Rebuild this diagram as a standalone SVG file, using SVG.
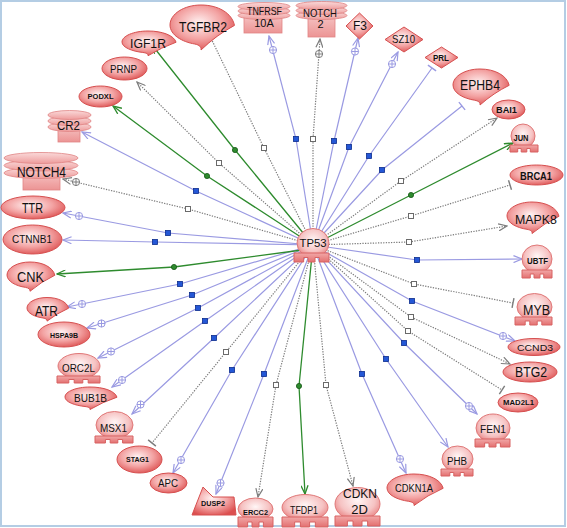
<svg xmlns="http://www.w3.org/2000/svg" width="567" height="528" viewBox="0 0 567 528">
<style>
text{font-family:"Liberation Sans",Arial,sans-serif;text-anchor:middle;fill:#111}
.sb{font-weight:bold}
.e{fill:url(#gE);stroke:#d65050;stroke-width:1}
.c{fill:url(#gE);stroke:#d65050;stroke-width:1}
.t{fill:url(#gT);stroke:#e07878;stroke-width:1}
.b{fill:url(#gB);stroke:#d86262;stroke-width:1}
.r{fill:url(#gR);stroke:#e08484;stroke-width:0.8}
.rb{fill:url(#gB2);stroke:#e08484;stroke-width:0.8}
.lb{fill:none;stroke:#9a9ae2;stroke-width:1.2}
.lg{fill:none;stroke:#7c7c7c;stroke-width:1.2;stroke-dasharray:1.3 1.3}
.ln{fill:none;stroke:#2e8b2e;stroke-width:1.3}
</style>
<defs>
<radialGradient id="gE" cx="0.45" cy="0.4" r="0.65"><stop offset="0" stop-color="#fff3f3"/><stop offset="0.55" stop-color="#f3a3a3"/><stop offset="1" stop-color="#dc4f4f"/></radialGradient>
<radialGradient id="gT" cx="0.5" cy="0.4" r="0.6"><stop offset="0" stop-color="#fff6f6"/><stop offset="0.65" stop-color="#f6c3c3"/><stop offset="1" stop-color="#e98585"/></radialGradient>
<linearGradient id="gB" x1="0" y1="0" x2="0" y2="1"><stop offset="0" stop-color="#f2a8a8"/><stop offset="1" stop-color="#e37070"/></linearGradient>
<linearGradient id="gR" x1="0" y1="0" x2="0" y2="1"><stop offset="0" stop-color="#fadada"/><stop offset="1" stop-color="#ee9c9c"/></linearGradient>
<linearGradient id="gB2" x1="0" y1="0" x2="0" y2="1"><stop offset="0" stop-color="#f6c4c4"/><stop offset="1" stop-color="#ec9494"/></linearGradient>
<path id="cr" class="c" vector-effect="non-scaling-stroke" d="M1.08,0.02C1,-0.6 0.55,-1 0,-1C-0.55,-1 -1,-0.55 -1,0C-1,0.5 -0.6,0.85 -0.2,0.95C-0.05,1 0.02,1.1 0,1.25Q0.5,0.5 1.08,0.02Z"/>
<path id="bs" class="b" vector-effect="non-scaling-stroke" d="M-1,0H1V1H0.45V0.5H0.2V1H-0.2V0.5H-0.45V1H-1Z"/>
<marker id="aB" viewBox="0 0 10 8" refX="9" refY="4" markerWidth="10" markerHeight="8" markerUnits="userSpaceOnUse" orient="auto"><path d="M0.5,0.5L9,4L0.5,7.5" fill="none" stroke="#9a9ae2" stroke-width="1.2"/></marker>
<marker id="aG" viewBox="0 0 10 8" refX="9" refY="4" markerWidth="10" markerHeight="8" markerUnits="userSpaceOnUse" orient="auto"><path d="M0.5,0.5L9,4L0.5,7.5" fill="none" stroke="#7c7c7c" stroke-width="1.2"/></marker>
<marker id="aN" viewBox="0 0 10 8" refX="9" refY="4" markerWidth="10" markerHeight="8" markerUnits="userSpaceOnUse" orient="auto"><path d="M0.5,0.5L9,4L0.5,7.5" fill="none" stroke="#2e8b2e" stroke-width="1.3"/></marker>
<marker id="tB" viewBox="0 0 4 12" refX="2" refY="6" markerWidth="4" markerHeight="12" markerUnits="userSpaceOnUse" orient="auto"><path d="M2,1V11" stroke="#9a9ae2" stroke-width="1.4"/></marker>
<marker id="tG" viewBox="0 0 4 12" refX="2" refY="6" markerWidth="4" markerHeight="12" markerUnits="userSpaceOnUse" orient="auto"><path d="M2,1V11" stroke="#7c7c7c" stroke-width="1.4"/></marker>
<rect id="qB" x="-2.5" y="-2.5" width="5" height="5" fill="#2457d6" stroke="#0c2c8c" stroke-width="0.8"/>
<rect id="qG" x="-2.5" y="-2.5" width="5" height="5" fill="#fff" stroke="#6a6a6a" stroke-width="1"/>
<circle id="qN" r="2.6" fill="#2e8b2e" stroke="#155515" stroke-width="0.8"/>
<g id="pB"><circle r="3.6" fill="#fff" stroke="#9a9ae2"/><path d="M-3.6,0H3.6M0,-3.6V3.6" stroke="#9a9ae2"/></g>
<g id="pG"><circle r="3.6" fill="#fff" stroke="#7c7c7c"/><path d="M-3.6,0H3.6M0,-3.6V3.6" stroke="#7c7c7c"/></g>
</defs>
<rect x="1" y="1" width="564" height="525" fill="#fff" stroke="#b4cde4" stroke-width="2"/>
<g id="connectors">
<path class="ln" d="M313,245L235,150L152,45" marker-end="url(#aN)"/><use href="#qN" x="235" y="150"/>
<path class="ln" d="M313,245L207,176L113,106" marker-end="url(#aN)"/><use href="#qN" x="207" y="176"/>
<path class="lg" d="M313,245L219,163L137,82" marker-end="url(#aG)"/><use href="#qG" x="219" y="163"/>
<path class="lg" d="M313,245L264,148L207,30" marker-end="url(#aG)"/><use href="#qG" x="264" y="148"/>
<path class="lb" d="M313,245L296,139L269,36" marker-end="url(#aB)"/><use href="#qB" x="296" y="139"/><use href="#pB" x="273" y="50"/>
<path class="lg" d="M313,245L313,139L320,39" marker-end="url(#aG)"/><use href="#qG" x="313" y="139"/><use href="#pG" x="319" y="54"/>
<path class="lb" d="M313,245L334,141L358,38" marker-end="url(#aB)"/><use href="#qB" x="334" y="141"/><use href="#pB" x="355" y="51.5"/>
<path class="lb" d="M313,245L349,147L398,52" marker-end="url(#aB)"/><use href="#qB" x="349" y="147"/><use href="#pB" x="392" y="64"/>
<path class="lb" d="M313,245L369,156L432,68" marker-end="url(#tB)"/><use href="#qB" x="369" y="156"/>
<path class="lb" d="M313,245L382,170L462,106" marker-end="url(#tB)"/><use href="#qB" x="382" y="170"/>
<path class="lg" d="M313,245L401,181L497,118" marker-end="url(#aG)"/><use href="#qG" x="401" y="181"/>
<path class="ln" d="M313,245L411,195L513,143" marker-end="url(#aN)"/><use href="#qN" x="411" y="195"/>
<path class="lg" d="M313,245L411,216L510,185" marker-end="url(#tG)"/><use href="#qG" x="411" y="216"/>
<path class="lg" d="M313,245L409,242L507,226" marker-end="url(#aG)"/><use href="#qG" x="409" y="242"/>
<path class="lb" d="M313,245L417,260L522,259" marker-end="url(#aB)"/><use href="#qB" x="417" y="260"/>
<path class="lg" d="M313,245L414,284L513,303" marker-end="url(#tG)"/><use href="#qG" x="414" y="284"/>
<path class="lb" d="M313,245L412,301L515,341" marker-end="url(#aB)"/><use href="#qB" x="412" y="301"/><use href="#pB" x="503" y="336"/>
<path class="lg" d="M313,245L411,317L510,364" marker-end="url(#aG)"/><use href="#qG" x="411" y="317"/>
<path class="lg" d="M313,245L408,331L502,390" marker-end="url(#tG)"/><use href="#qG" x="408" y="331"/>
<path class="lb" d="M313,245L404,343L477,414" marker-end="url(#aB)"/><use href="#qB" x="404" y="343"/><use href="#pB" x="469" y="406"/>
<path class="lb" d="M313,245L386,359L448,447" marker-end="url(#aB)"/><use href="#qB" x="386" y="359"/>
<path class="lb" d="M313,245L362,374L406,473" marker-end="url(#aB)"/><use href="#qB" x="362" y="374"/><use href="#pB" x="400" y="459"/>
<path class="lg" d="M313,245L326,385L353,486" marker-end="url(#aG)"/><use href="#qG" x="326" y="385"/>
<path class="ln" d="M313,245L299,386L305,494" marker-end="url(#aN)"/><use href="#qN" x="299" y="386"/>
<path class="lg" d="M313,245L276,385L258,497" marker-end="url(#aG)"/><use href="#qG" x="276" y="385"/>
<path class="lb" d="M313,245L264,374L216,494" marker-end="url(#aB)"/><use href="#qB" x="264" y="374"/><use href="#pB" x="220.5" y="483"/>
<path class="lb" d="M313,245L232,370L173,473" marker-end="url(#aB)"/><use href="#qB" x="232" y="370"/><use href="#pB" x="181" y="460"/>
<path class="lg" d="M313,245L226,352L152,443" marker-end="url(#tG)"/><use href="#qG" x="226" y="352"/>
<path class="lb" d="M313,245L214,338L132,414" marker-end="url(#aB)"/><use href="#qB" x="214" y="338"/><use href="#pB" x="140.5" y="404.5"/>
<path class="lb" d="M313,245L205,321L112,387" marker-end="url(#aB)"/><use href="#qB" x="205" y="321"/><use href="#pB" x="122" y="380"/>
<path class="lb" d="M313,245L198,308L98,358" marker-end="url(#aB)"/><use href="#qB" x="198" y="308"/><use href="#pB" x="111" y="351.5"/>
<path class="lb" d="M313,245L192,295L87,328" marker-end="url(#aB)"/><use href="#qB" x="192" y="295"/><use href="#pB" x="101.5" y="323.5"/>
<path class="lb" d="M313,245L180,284L67,307" marker-end="url(#aB)"/><use href="#qB" x="180" y="284"/><use href="#pB" x="82" y="304"/>
<path class="ln" d="M302,250L174,267L57,274" marker-end="url(#aN)"/><use href="#qN" x="174" y="267"/>
<path class="lb" d="M313,245L155,242L63,240" marker-end="url(#aB)"/><use href="#qB" x="155" y="242"/>
<path class="lb" d="M313,245L168,233L63,213" marker-end="url(#aB)"/><use href="#qB" x="168" y="233"/><use href="#pB" x="79" y="216"/>
<path class="lg" d="M313,245L188,209L63,179" marker-end="url(#aG)"/><use href="#qG" x="188" y="209"/><use href="#pG" x="76" y="182"/>
<path class="lb" d="M313,245L196,191L82,132" marker-end="url(#aB)"/><use href="#qB" x="196" y="191"/>
</g>
<g id="TP53"><ellipse class="t" cx="313" cy="243" rx="16" ry="14.5"/><use href="#bs" transform="translate(311.5,253) scale(17.5,9)"/><text x="313" y="247" font-size="10" textLength="27" lengthAdjust="spacingAndGlyphs">TP53</text></g>
<g id="IGF1R"><use href="#cr" transform="translate(148,42) scale(26,11)"/><text x="148" y="48" font-size="12.5" textLength="36" lengthAdjust="spacingAndGlyphs">IGF1R</text></g>
<g id="TGFBR2"><use href="#cr" transform="translate(201,25) scale(31,20)"/><text x="203" y="32" font-size="14" textLength="48" lengthAdjust="spacingAndGlyphs">TGFBR2</text></g>
<g id="PRNP"><ellipse class="e" cx="124.5" cy="68.5" rx="22.5" ry="11.5"/><text x="123.5" y="72.5" font-size="10" textLength="27" lengthAdjust="spacingAndGlyphs">PRNP</text></g>
<g id="PODXL"><ellipse class="e" cx="100.5" cy="96.5" rx="21.5" ry="10.5"/><text class="sb" x="100.5" y="99" font-size="7.5" textLength="26" lengthAdjust="spacingAndGlyphs">PODXL</text></g>
<g id="CR2"><rect class="rb" x="58" y="126" width="22" height="16"/><ellipse class="r" cx="69.5" cy="127" rx="21.5" ry="4.5"/><ellipse class="r" cx="69.5" cy="121" rx="21.5" ry="4.5"/><ellipse class="r" cx="69.5" cy="115" rx="21.5" ry="4.5"/><text x="68.5" y="130" font-size="13" textLength="23" lengthAdjust="spacingAndGlyphs">CR2</text></g>
<g id="NOTCH4"><rect class="rb" x="23" y="172" width="37" height="18"/><ellipse class="r" cx="41" cy="173" rx="37" ry="5.5"/><ellipse class="r" cx="41" cy="165.5" rx="37" ry="5.5"/><ellipse class="r" cx="41" cy="158" rx="37" ry="5.5"/><text x="41.5" y="177" font-size="14.5" textLength="49" lengthAdjust="spacingAndGlyphs">NOTCH4</text></g>
<g id="TNFRSF10A"><rect class="rb" x="244" y="15" width="38" height="18"/><ellipse class="r" cx="264" cy="15.5" rx="26" ry="4"/><ellipse class="r" cx="264" cy="11" rx="26" ry="4"/><ellipse class="r" cx="264" cy="6.5" rx="26" ry="4"/><text x="264.5" y="15" font-size="11" textLength="35" lengthAdjust="spacingAndGlyphs">TNFRSF</text><text x="264" y="27" font-size="11">10A</text></g>
<g id="NOTCH2"><rect class="rb" x="308" y="15" width="27" height="22"/><ellipse class="r" cx="321.5" cy="15.5" rx="25.5" ry="4"/><ellipse class="r" cx="321.5" cy="10.5" rx="25.5" ry="4"/><ellipse class="r" cx="321.5" cy="5.5" rx="25.5" ry="4"/><text x="320" y="17" font-size="11" textLength="34" lengthAdjust="spacingAndGlyphs">NOTCH</text><text x="320.5" y="28" font-size="11">2</text></g>
<g id="F3"><polygon class="e" points="359.5,13 373,26 359.5,39 346,26"/><text x="360" y="30" font-size="12">F3</text></g>
<g id="SZ10"><polygon class="e" points="404,27 423,39.5 404,52 385,39.5"/><text x="403.5" y="43" font-size="10.5" textLength="23" lengthAdjust="spacingAndGlyphs">SZ10</text></g>
<g id="PRL"><polygon class="e" points="441.5,47 458,57.5 441.5,68 425,57.5"/><text class="sb" x="441" y="61" font-size="8.5" textLength="16" lengthAdjust="spacingAndGlyphs">PRL</text></g>
<g id="EPHB4"><use href="#cr" transform="translate(480,85) scale(27,16)"/><text x="480" y="90" font-size="14" textLength="40" lengthAdjust="spacingAndGlyphs">EPHB4</text></g>
<g id="BAI1"><ellipse class="e" cx="508.5" cy="109.5" rx="16.5" ry="9.5"/><text class="sb" x="506.5" y="113" font-size="9" textLength="21" lengthAdjust="spacingAndGlyphs">BAI1</text></g>
<g id="JUN"><ellipse class="t" cx="523" cy="136" rx="12" ry="12"/><use href="#bs" transform="translate(524,145) scale(14,7)"/><text class="sb" x="521" y="141" font-size="9" textLength="15" lengthAdjust="spacingAndGlyphs">JUN</text></g>
<g id="BRCA1"><ellipse class="e" cx="536.5" cy="175" rx="26.5" ry="10"/><text class="sb" x="536" y="180" font-size="10" textLength="32" lengthAdjust="spacingAndGlyphs">BRCA1</text></g>
<g id="MAPK8"><use href="#cr" transform="translate(532,216) scale(25,14)"/><text x="536" y="224" font-size="13.5" textLength="42" lengthAdjust="spacingAndGlyphs">MAPK8</text></g>
<g id="UBTF"><ellipse class="t" cx="537" cy="259" rx="15" ry="14"/><use href="#bs" transform="translate(537,270) scale(15,8)"/><text class="sb" x="537.5" y="264" font-size="9.5" textLength="21" lengthAdjust="spacingAndGlyphs">UBTF</text></g>
<g id="MYB"><ellipse class="t" cx="534.5" cy="307" rx="17.5" ry="13.5"/><use href="#bs" transform="translate(533.5,317) scale(18.5,8)"/><text x="536.5" y="315" font-size="14" textLength="27" lengthAdjust="spacingAndGlyphs">MYB</text></g>
<g id="CCND3"><ellipse class="e" cx="534" cy="347" rx="26" ry="8.5"/><text x="535" y="350.5" font-size="9.5" textLength="36" lengthAdjust="spacingAndGlyphs">CCND3</text></g>
<g id="BTG2"><ellipse class="e" cx="530" cy="372" rx="27" ry="10"/><text x="531" y="377" font-size="14" textLength="32" lengthAdjust="spacingAndGlyphs">BTG2</text></g>
<g id="MAD2L1"><ellipse class="e" cx="518" cy="402.5" rx="20" ry="9.5"/><text class="sb" x="518.5" y="405" font-size="7.5" textLength="31" lengthAdjust="spacingAndGlyphs">MAD2L1</text></g>
<g id="FEN1"><ellipse class="t" cx="493" cy="428" rx="17" ry="14"/><use href="#bs" transform="translate(492.5,439) scale(17.5,8)"/><text x="493" y="433" font-size="10" textLength="26" lengthAdjust="spacingAndGlyphs">FEN1</text></g>
<g id="PHB"><ellipse class="t" cx="457.5" cy="459" rx="15.5" ry="13"/><use href="#bs" transform="translate(457,469) scale(16,7)"/><text x="457" y="465" font-size="10" textLength="20" lengthAdjust="spacingAndGlyphs">PHB</text></g>
<g id="CDKN1A"><use href="#cr" transform="translate(414,488) scale(27,14)"/><text x="414" y="492" font-size="10.5" textLength="38" lengthAdjust="spacingAndGlyphs">CDKN1A</text></g>
<g id="CDKN2D"><ellipse class="t" cx="357.5" cy="504" rx="22.5" ry="16.5"/><use href="#bs" transform="translate(357.5,516) scale(22.5,10)"/><text x="360" y="498" font-size="13" textLength="34" lengthAdjust="spacingAndGlyphs">CDKN</text><text x="359.5" y="513.5" font-size="13">2D</text></g>
<g id="TFDP1"><ellipse class="t" cx="305" cy="507.5" rx="23" ry="13"/><use href="#bs" transform="translate(305,517) scale(23,10)"/><text x="304" y="514" font-size="10.5" textLength="28" lengthAdjust="spacingAndGlyphs">TFDP1</text></g>
<g id="ERCC2"><ellipse class="t" cx="255.5" cy="509" rx="17.5" ry="11"/><use href="#bs" transform="translate(255.5,517) scale(17.5,10)"/><text class="sb" x="255.5" y="515" font-size="8" textLength="25" lengthAdjust="spacingAndGlyphs">ERCC2</text></g>
<g id="DUSP2"><polygon class="e" points="192,515 203,487 213,497 234,497 236,515"/><text class="sb" x="213" y="506" font-size="8" textLength="24" lengthAdjust="spacingAndGlyphs">DUSP2</text></g>
<g id="APC"><ellipse class="e" cx="168.5" cy="483" rx="18.5" ry="10"/><text x="168" y="487" font-size="11.5" textLength="20" lengthAdjust="spacingAndGlyphs">APC</text></g>
<g id="STAG1"><ellipse class="e" cx="139.5" cy="459.5" rx="22.5" ry="13.5"/><text class="sb" x="137.5" y="462" font-size="8" textLength="23" lengthAdjust="spacingAndGlyphs">STAG1</text></g>
<g id="MSX1"><ellipse class="t" cx="114.5" cy="425" rx="18.5" ry="13.5"/><use href="#bs" transform="translate(114,436) scale(19,7)"/><text x="113.5" y="432" font-size="11" textLength="27" lengthAdjust="spacingAndGlyphs">MSX1</text></g>
<g id="BUB1B"><use href="#cr" transform="translate(90,397) scale(25,10)"/><text x="90.5" y="402" font-size="10.5" textLength="33" lengthAdjust="spacingAndGlyphs">BUB1B</text></g>
<g id="ORC2L"><ellipse class="t" cx="79" cy="366" rx="21" ry="12.5"/><use href="#bs" transform="translate(78.5,376) scale(21.5,7)"/><text x="78.5" y="372" font-size="10.5" textLength="33" lengthAdjust="spacingAndGlyphs">ORC2L</text></g>
<g id="HSPA9B"><ellipse class="e" cx="64" cy="334.5" rx="26" ry="12.5"/><text class="sb" x="64" y="337.5" font-size="7.5" textLength="28" lengthAdjust="spacingAndGlyphs">HSPA9B</text></g>
<g id="ATR"><use href="#cr" transform="translate(47,308) scale(20,10.5)"/><text x="46.5" y="316" font-size="14" textLength="23" lengthAdjust="spacingAndGlyphs">ATR</text></g>
<g id="CNK"><use href="#cr" transform="translate(30,275) scale(23,13)"/><text x="30.5" y="282" font-size="14" textLength="27" lengthAdjust="spacingAndGlyphs">CNK</text></g>
<g id="CTNNB1"><ellipse class="e" cx="32.5" cy="239.5" rx="29.5" ry="14.5"/><text x="32" y="243" font-size="10.5" textLength="40" lengthAdjust="spacingAndGlyphs">CTNNB1</text></g>
<g id="TTR"><ellipse class="e" cx="33" cy="207.5" rx="32" ry="11.5"/><text x="32.5" y="213" font-size="14" textLength="21" lengthAdjust="spacingAndGlyphs">TTR</text></g>
</svg>
